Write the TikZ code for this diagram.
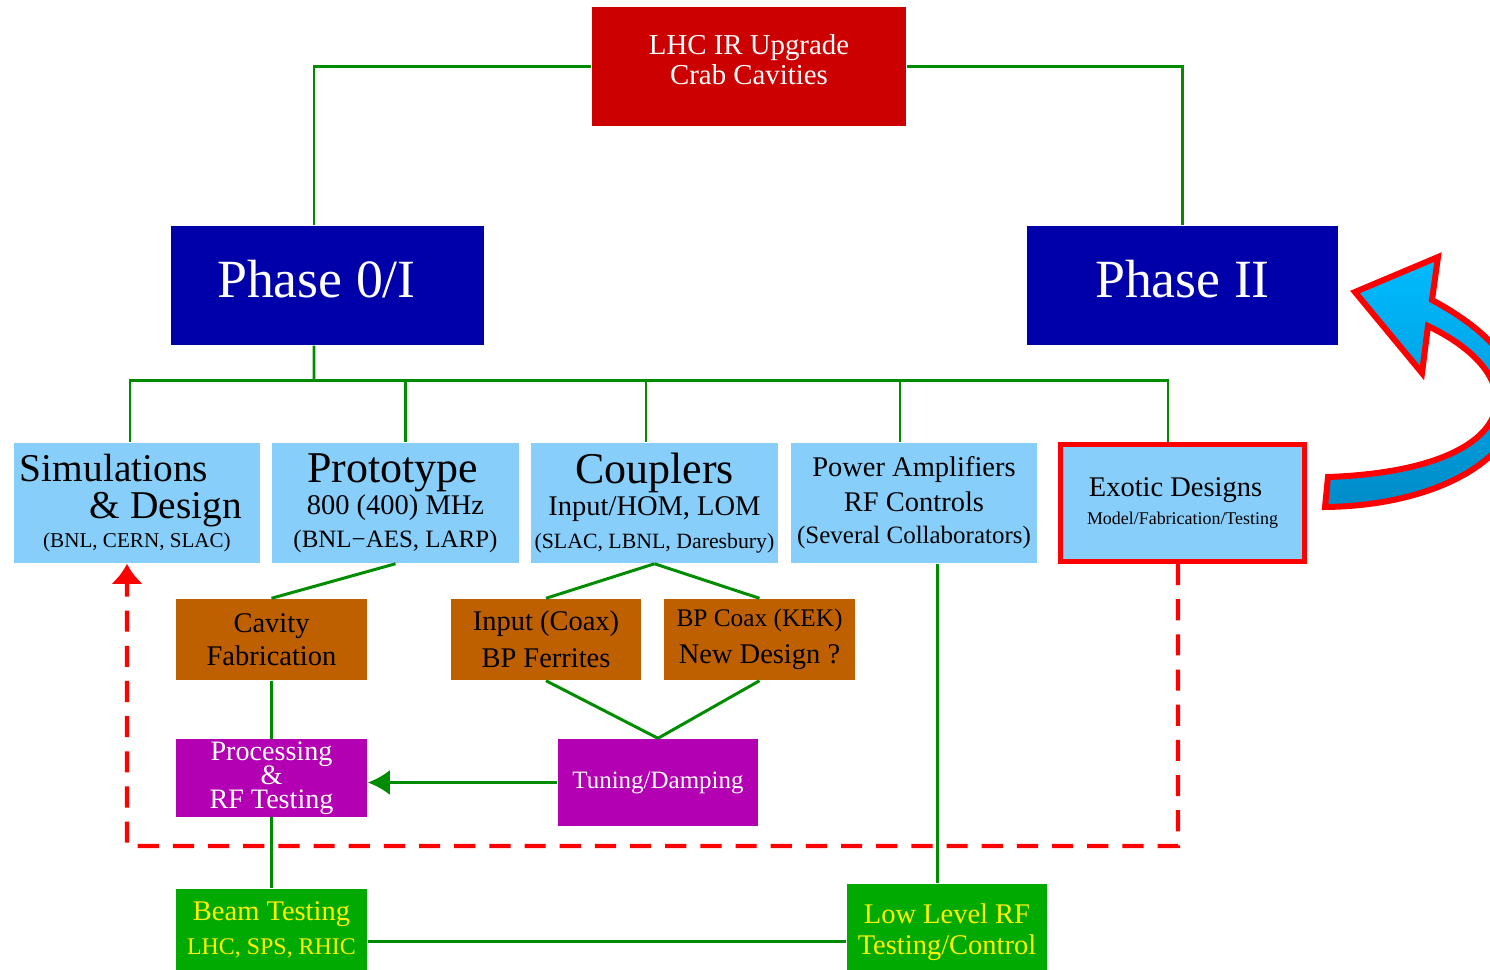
\documentclass[tikz,border=0pt]{standalone}
\usepackage{fontspec}
\setmainfont{Liberation Serif}
\usepackage{tikz}
\usetikzlibrary{arrows}
\usetikzlibrary{arrows.meta}
\definecolor{lhcred}{RGB}{204,0,0}
\definecolor{phaseblue}{RGB}{0,0,170}
\definecolor{boxblue}{RGB}{135,206,250}
\definecolor{fabbrown}{RGB}{191,96,0}
\definecolor{procpurple}{RGB}{178,0,178}
\definecolor{testgreen}{RGB}{0,170,0}
\definecolor{linkgreen}{RGB}{0,140,0}
\definecolor{arrowcyan}{RGB}{0,187,255}
\definecolor{arrowdark}{RGB}{0,140,200}
\tikzset{>=latex}
\tikzset{
  box/.style={rectangle, inner sep=0pt, align=center},
  topbox/.style={box, fill=lhcred, text=white, minimum width=3.14cm, minimum height=1.19cm, text depth=4pt, font=\fontsize{8.2}{8.6}\selectfont},
  phasebox/.style={box, fill=phaseblue, text=white, minimum width=3.13cm, minimum height=1.19cm, text depth=3.7pt, font=\fontsize{15.3}{16}\selectfont},
  taskbox/.style={box, fill=boxblue, minimum width=2.46cm, minimum height=1.2cm, font=\fontsize{8.1}{9.2}\selectfont},
  fabbox/.style={box, fill=fabbrown, minimum width=1.91cm, minimum height=0.81cm, font=\fontsize{8.1}{10.5}\selectfont},
  procbox/.style={box, fill=procpurple, text=white, minimum width=1.91cm, minimum height=0.77cm, font=\fontsize{8}{9.3}\selectfont},
  testbox/.style={box, fill=testgreen, text=yellow, minimum width=1.91cm, minimum height=0.82cm, font=\fontsize{8.1}{9.6}\selectfont},
  link/.style={draw=linkgreen, line width=0.85pt},
  feedback/.style={draw=red, line width=1.15pt, dash pattern=on 6pt off 4pt},
}

\begin{document}
\begin{tikzpicture}[x=0.01cm,y=-0.01cm]
                    \useasboundingbox (0,0) rectangle (1490,969);
                    \node[topbox] (lhc) at (749,66.5) {LHC IR Upgrade\\Crab Cavities};
                    \node[phasebox] (phase0) at (327.5,285.5) {Phase 0/I\hspace*{0.22cm}};
                    \node[phasebox, minimum width=3.11cm] (phase2) at (1182.5,285.5) {Phase II};
                    \node[taskbox] (sim) at (137,503) {\hbox to 2.34cm{\fontsize{11.2}{10}\selectfont Simulations\hfil}\\[1.5pt]\hbox to 2.34cm{\hfil\fontsize{11.2}{10}\selectfont\& Design\hspace{0.12cm}}\\[-1pt]{\fontsize{6}{7}\selectfont (BNL, CERN, SLAC)}};
                    \node[taskbox] (proto) at (395.5,503) {{\fontsize{12.5}{10}\selectfont Prototype\hspace*{0.06cm}}\\800 (400) MHz\\{\fontsize{7.1}{8}\selectfont (BNL−AES, LARP)}};
                    \node[taskbox] (coup) at (654.5,503) {{\fontsize{12.5}{10}\selectfont Couplers}\\Input/HOM, LOM\\{\fontsize{6.2}{8}\selectfont (SLAC, LBNL, Daresbury)}};
                    \node[taskbox] (pwr) at (914,503) {Power Amplifiers\\[0.6pt]RF Controls\\{\fontsize{7.1}{8}\selectfont (Several Collaborators)}};
                    \node[taskbox, draw=red, line width=1.4pt, minimum width=2.44cm, minimum height=1.17cm, font=\fontsize{8.1}{7.7}\selectfont] (exo) at (1182.5,503) {Exotic Designs\hspace*{0.14cm}\\{\fontsize{5.1}{6}\selectfont Model/Fabrication/Testing}};
                    \node[fabbox] (cavity) at (271.5,639.5) {Cavity\\[-1pt]Fabrication};
                    \node[fabbox, minimum width=1.9cm] (inp) at (546,639.5) {Input (Coax)\\BP Ferrites};
                    \node[fabbox] (bpc) at (759.5,639.5) {{\fontsize{7.2}{8}\selectfont BP Coax (KEK)}\\New Design ?};
                    \node[procbox] (proc) at (271.5,778) {Processing\\[-2.4pt]\&\\[-2.4pt]RF Testing};
                    \node[procbox, minimum width=2cm, minimum height=0.87cm, font=\fontsize{7.1}{8}\selectfont] (tun) at (658,782.5) {Tuning/Damping};
                    \node[testbox] (beam) at (271.5,930) {Beam Testing\\{\fontsize{6.8}{8}\selectfont LHC, SPS, RHIC}};
                    \node[testbox, minimum width=2cm, minimum height=0.96cm, font=\fontsize{8.1}{8.8}\selectfont] (llrf) at (947,932) {Low Level RF\\Testing/Control};
                    \draw[link] (lhc.west) -| ([xshift=-0.135cm]phase0.north);
                    \draw[link] (lhc.east) -| (phase2.north);
                    \coordinate (bus) at (314,380);
                    \draw[link] ([xshift=-0.135cm]phase0.south) -- (bus);
                    \foreach \n/\dx in {sim/-0.07, proto/0.095, coup/-0.085, pwr/-0.14, exo/-0.145}
                        \draw[link] (bus) -| ([xshift=\dx cm]\n.north);
                    \draw[link] (proto.south) -- (cavity.north);
                    \draw[link] (coup.south) -- (inp.north);
                    \draw[link] (coup.south) -- (bpc.north);
                    \draw[link] (cavity.south) -- (proc.north);
                    \draw[link] (inp.south) -- (tun.north);
                    \draw[link] (bpc.south) -- (tun.north);
                    \draw[link, -{Latex[length=0.22cm,width=0.25cm]}] (tun.west) -- (tun.west -| proc.east);
                    \draw[link] (proc.south) -- (beam.north);
                    \coordinate (pa) at ([xshift=0.23cm]pwr.south);
                    \draw[link] (pa) -- (pa |- llrf.north);
                    \coordinate (bt) at ([yshift=-0.11cm]beam.east);
                    \draw[link] (bt) -- (bt -| llrf.west);
                    \coordinate (fbcorner) at (127,846);
                    \draw[feedback, -{Latex[length=0.2cm,width=0.32cm]}] ([xshift=-0.045cm]exo.south) |- (fbcorner) -- ([xshift=-0.1cm]sim.south);
                    \draw[red, line width=1.7pt, line join=miter, top color=arrowcyan, middle color=arrowcyan, bottom color=arrowdark]
                        (1325,507) .. controls (1500,505) and (1600,390) .. (1432,300) -- (1438,257) -- (1355,292) -- (1422,373) -- (1428,326) .. controls (1540,380) and (1520,470) .. (1328,477) -- cycle;
                    \end{tikzpicture}
\end{document}
